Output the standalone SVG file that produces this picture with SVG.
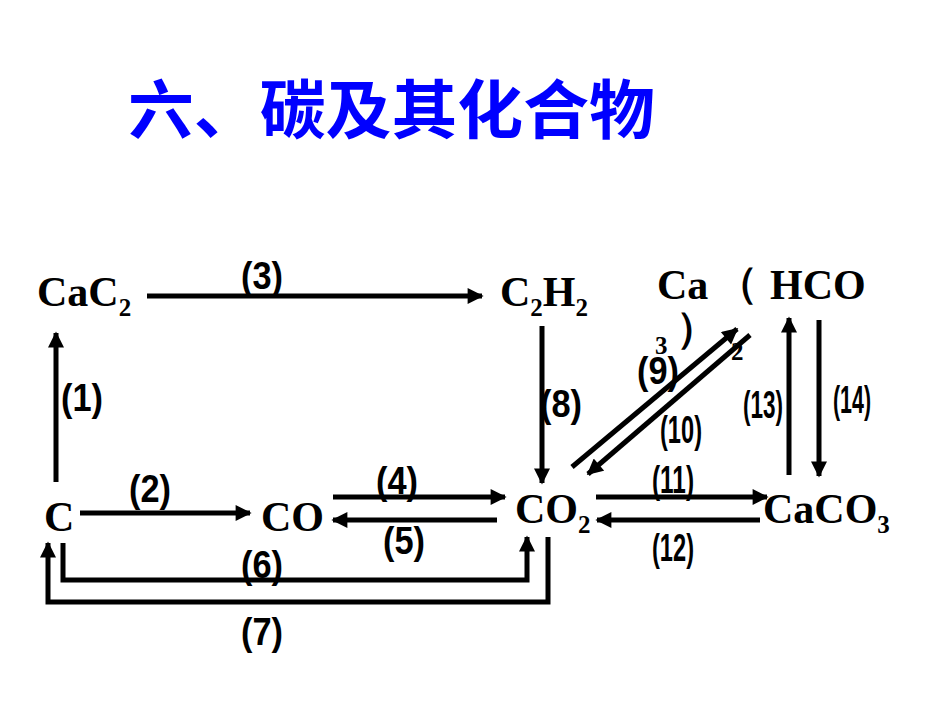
<svg xmlns="http://www.w3.org/2000/svg" width="950" height="713" viewBox="0 0 950 713">
<style>
.f{font-family:"Liberation Serif","Times New Roman",serif;font-weight:bold;font-size:42px;fill:#000}
.s{font-size:25px}
.n{font-family:"Liberation Sans",Arial,sans-serif;font-weight:bold;font-size:38px;fill:#000;text-anchor:middle}
.c path,.c line,.c polyline{stroke:#000;stroke-width:5;fill:none}
</style>
<defs><marker id="a" viewBox="0 0 10 10" refX="9" refY="5" markerWidth="3.6" markerHeight="3.2" orient="auto" markerUnits="strokeWidth"><path d="M0,0L10,5L0,10z" fill="#000"/></marker></defs>
<rect width="950" height="713" fill="#fff"/>
<text x="128" y="133" font-family="'Noto Sans CJK SC',sans-serif" font-weight="bold" font-size="64" fill="#0000ff" textLength="527" lengthAdjust="spacingAndGlyphs">六、碳及其化合物</text>
<g id="CaC2"><text class="f" x="37" y="306">CaC<tspan class="s" dy="10">2</tspan></text></g>
<g id="C2H2"><text class="f" x="500" y="306">C<tspan class="s" dy="10">2</tspan><tspan dy="-10">H</tspan><tspan class="s" dy="10">2</tspan></text></g>
<g id="CaHCO32"><text class="f" x="657" y="299">Ca</text><text class="f" x="716" y="297" font-weight="normal" font-family="'Noto Sans CJK SC',sans-serif" font-size="34">（</text><text class="f" x="770" y="299">HCO</text><text class="f" x="676" y="342" font-weight="normal" font-family="'Noto Sans CJK SC',sans-serif" font-size="34">）</text><text class="f s" x="655" y="354">3</text><text class="f s" x="731" y="360">2</text></g>
<g id="C"><text class="f" x="44" y="531">C</text></g>
<g id="CO"><text class="f" x="261" y="531">CO</text></g>
<g id="CO2"><text class="f" x="515" y="523">CO<tspan class="s" dy="10">2</tspan></text></g>
<g id="CaCO3"><text class="f" x="763" y="523">CaCO<tspan class="s" dy="10">3</tspan></text></g>
<g id="connectors" class="c">
<line x1="147" y1="296" x2="482" y2="296" marker-end="url(#a)"/>
<line x1="56" y1="482" x2="56" y2="333" marker-end="url(#a)"/>
<line x1="80" y1="513" x2="250" y2="513" marker-end="url(#a)"/>
<line x1="333" y1="497" x2="505" y2="497" marker-end="url(#a)"/>
<line x1="497" y1="520" x2="333" y2="520" marker-end="url(#a)"/>
<polyline points="63,543 63,580 527,580 527,537" marker-end="url(#a)"/>
<polyline points="548,537 548,602 48,602 48,543" marker-end="url(#a)"/>
<line x1="542" y1="326" x2="542" y2="483" marker-end="url(#a)"/>
<line x1="572" y1="467" x2="737" y2="329" marker-end="url(#a)"/>
<line x1="750" y1="335" x2="588" y2="474" marker-end="url(#a)"/>
<line x1="596" y1="497" x2="767" y2="497" marker-end="url(#a)"/>
<line x1="760" y1="520" x2="597" y2="520" marker-end="url(#a)"/>
<line x1="789" y1="475" x2="789" y2="318" marker-end="url(#a)"/>
<line x1="819" y1="320" x2="819" y2="476" marker-end="url(#a)"/>
</g>
<g id="labels">
<text class="n" x="262" y="289" textLength="42" lengthAdjust="spacingAndGlyphs">(3)</text>
<text class="n" x="82" y="411" textLength="42" lengthAdjust="spacingAndGlyphs">(1)</text>
<text class="n" x="150" y="502" textLength="42" lengthAdjust="spacingAndGlyphs">(2)</text>
<text class="n" x="397" y="494" textLength="42" lengthAdjust="spacingAndGlyphs">(4)</text>
<text class="n" x="404" y="554" textLength="42" lengthAdjust="spacingAndGlyphs">(5)</text>
<text class="n" x="262" y="578" textLength="42" lengthAdjust="spacingAndGlyphs">(6)</text>
<text class="n" x="262" y="645" textLength="42" lengthAdjust="spacingAndGlyphs">(7)</text>
<text class="n" x="561" y="417" textLength="42" lengthAdjust="spacingAndGlyphs">(8)</text>
<text class="n" x="658" y="384" textLength="42" lengthAdjust="spacingAndGlyphs">(9)</text>
<text class="n" x="681" y="443" textLength="42" lengthAdjust="spacingAndGlyphs">(10)</text>
<text class="n" x="673" y="493" textLength="42" lengthAdjust="spacingAndGlyphs">(11)</text>
<text class="n" x="673" y="561" textLength="42" lengthAdjust="spacingAndGlyphs">(12)</text>
<text class="n" x="763" y="418" font-size="32" textLength="40" lengthAdjust="spacingAndGlyphs">(13)</text>
<text class="n" x="852" y="413" font-size="32" textLength="38" lengthAdjust="spacingAndGlyphs">(14)</text>
</g>
</svg>
